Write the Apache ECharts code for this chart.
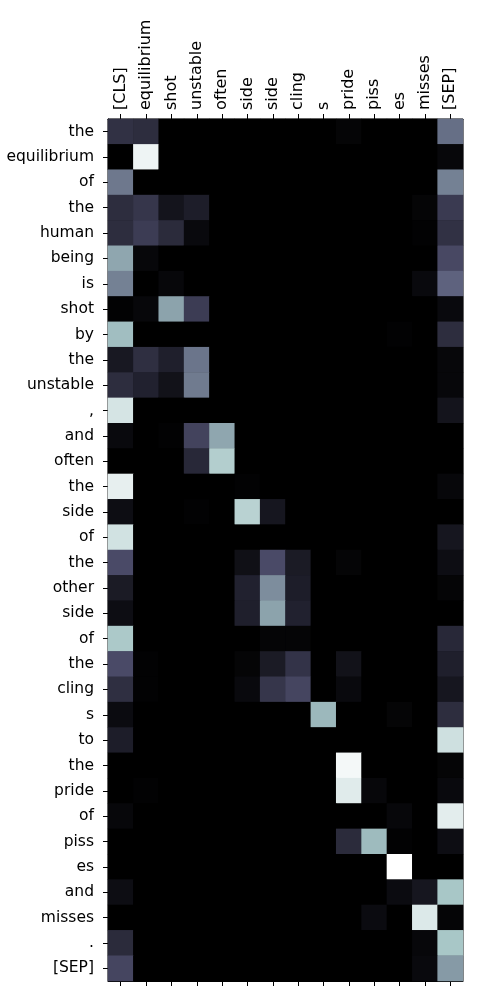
<!DOCTYPE html>
<html><head><meta charset="utf-8">
<script src="https://cdn.jsdelivr.net/npm/echarts@6/dist/echarts.min.js"></script>
<style>html,body{margin:0;padding:0;background:#fff}#c{width:500px;height:1000px}</style>
</head><body><div id="c"></div>
<script>
const xLabels = ['[CLS]','equilibrium','shot','unstable','often','side','side','cling','s','pride','piss','es','misses','[SEP]'];
const yLabels = ['the','equilibrium','of','the','human','being','is','shot','by','the','unstable',',','and','often','the','side','of','the','other','side','of','the','cling','s','to','the','pride','of','piss','es','and','misses','.','[SEP]'];
const attention = [
[0.22,0.2,0,0,0,0,0,0,0,0.02,0,0,0,0.46],
[0,0.95,0,0,0,0,0,0,0,0,0,0,0,0.03],
[0.49,0,0,0,0,0,0,0,0,0,0,0,0,0.52],
[0.2,0.24,0.09,0.13,0,0,0,0,0,0,0,0,0.02,0.26],
[0.2,0.27,0.19,0.04,0,0,0,0,0,0,0,0,0.01,0.22],
[0.64,0.03,0,0,0,0,0,0,0,0,0,0,0,0.32],
[0.52,0,0.03,0,0,0,0,0,0,0,0,0,0.04,0.42],
[0.01,0.03,0.63,0.27,0,0,0,0,0,0,0,0,0,0.04],
[0.72,0,0,0,0,0,0,0,0,0,0,0.01,0,0.2],
[0.11,0.21,0.14,0.48,0,0,0,0,0,0,0,0,0,0.03],
[0.2,0.15,0.08,0.5,0,0,0,0,0,0,0,0,0,0.03],
[0.88,0,0,0,0,0,0,0,0,0,0,0,0,0.09],
[0.04,0,0.01,0.3,0.64,0,0,0,0,0,0,0,0,0],
[0,0,0,0.18,0.78,0,0,0,0,0,0,0,0,0],
[0.93,0,0,0,0,0.01,0,0,0,0,0,0,0,0.03],
[0.06,0,0,0.01,0,0.8,0.1,0,0,0,0,0,0,0],
[0.87,0,0,0,0,0,0,0,0,0,0,0,0,0.1],
[0.33,0,0,0,0,0.07,0.33,0.12,0,0.02,0,0,0,0.06],
[0.12,0,0,0,0,0.15,0.56,0.13,0,0,0,0,0,0.02],
[0.06,0,0,0,0,0.14,0.63,0.15,0,0,0,0,0,0],
[0.76,0,0,0,0,0,0.02,0.02,0,0,0,0,0,0.18],
[0.33,0.01,0,0,0,0.02,0.12,0.23,0,0.08,0,0,0,0.14],
[0.21,0.01,0,0,0,0.04,0.24,0.31,0,0.04,0,0,0,0.1],
[0.05,0,0,0,0,0,0,0,0.7,0,0,0.02,0,0.2],
[0.13,0,0,0,0,0,0,0,0,0,0,0,0,0.86],
[0,0,0,0,0,0,0,0,0,0.97,0,0,0,0.02],
[0,0.01,0,0,0,0,0,0,0,0.91,0.03,0,0,0.04],
[0.03,0,0,0,0,0,0,0,0,0,0,0.03,0,0.92],
[0,0,0,0,0,0,0,0,0,0.19,0.71,0.01,0,0.06],
[0,0,0,0,0,0,0,0,0,0,0,1,0,0],
[0.06,0,0,0,0,0,0,0,0,0,0,0.05,0.1,0.75],
[0,0,0,0,0,0,0,0,0,0,0.05,0,0.9,0.02],
[0.19,0,0,0,0,0,0,0,0,0,0,0,0.03,0.75],
[0.31,0,0,0,0,0,0,0,0,0,0,0,0.04,0.6]
];

// matplotlib "bone" colormap
function interp(stops, v){
  for (let i=1;i<stops.length;i++){
    if (v<=stops[i][0]){
      const a=stops[i-1], b=stops[i];
      return a[1]+(b[1]-a[1])*(v-a[0])/(b[0]-a[0]);
    }
  }
  return stops[stops.length-1][1];
}
const R=[[0,0],[0.746032,0.652778],[1,1]];
const G=[[0,0],[0.365079,0.319444],[0.746032,0.777778],[1,1]];
const B=[[0,0],[0.365079,0.444444],[1,1]];
const boneColors=[];
for(let i=0;i<=40;i++){
  const v=i/40;
  const c=[interp(R,v),interp(G,v),interp(B,v)].map(x=>Math.round(x*255));
  boneColors.push('rgb('+c.join(',')+')');
}

const data=[];
attention.forEach((row,r)=>row.forEach((v,c)=>data.push([c,r,v])));

const font='DejaVu Sans';
const tick={show:true,alignWithLabel:true,interval:0,length:5,lineStyle:{color:'#000',width:1}};
const line={show:true,lineStyle:{color:'#000'}};
const chart=echarts.init(document.getElementById('c'),null,{renderer:'canvas'});
chart.setOption({
  animation:false,
  backgroundColor:'#fff',
  grid:{left:108,top:119,width:355,height:862,show:true,borderColor:'#000',borderWidth:1,backgroundColor:'#000'},
  visualMap:{show:false,min:0,max:1,inRange:{color:boneColors}},
  xAxis:[
    {type:'category',data:xLabels,position:'top',
     axisLine:line,axisTick:tick,
     axisLabel:{rotate:-90,color:'#000',fontFamily:font,fontSize:16,margin:9,interval:0},
     splitLine:{show:false}},
    {type:'category',data:xLabels,position:'bottom',
     axisLine:line,axisTick:tick,axisLabel:{show:false},splitLine:{show:false}}
  ],
  yAxis:[
    {type:'category',data:yLabels,inverse:true,position:'left',
     axisLine:line,axisTick:tick,
     axisLabel:{color:'#000',fontFamily:font,fontSize:15.5,margin:14,interval:0},
     splitLine:{show:false}}
  ],
  series:[{type:'heatmap',data:data,xAxisIndex:0,yAxisIndex:0,
     itemStyle:{borderWidth:0},emphasis:{disabled:true}}]
});
</script></body></html>
